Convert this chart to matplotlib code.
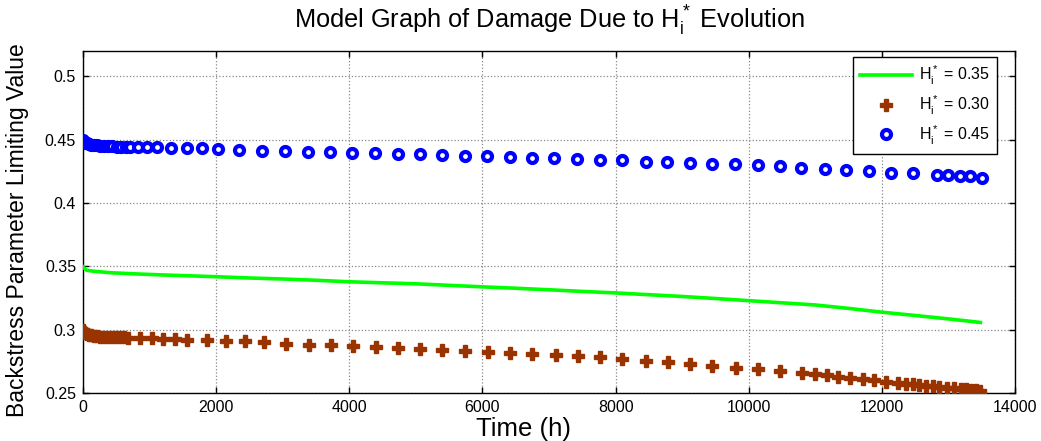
import matplotlib
matplotlib.use("Agg")
import matplotlib.pyplot as plt

# ---- data -------------------------------------------------------------
# H_i* = 0.35 (continuous curve)
t_035 = [0, 50, 150, 400, 800, 1200, 1600, 2000, 2500, 3000, 3500, 4000,
         4500, 5000, 5500, 6000, 6500, 7000, 7500, 8000, 8500, 9000, 9500,
         10000, 10500, 11000, 11500, 12000, 12500, 13000, 13480]
v_035 = [0.3496, 0.3470, 0.3462, 0.3450, 0.3440, 0.3432, 0.3425, 0.3418,
         0.3408, 0.3400, 0.3390, 0.3378, 0.3370, 0.3362, 0.3350, 0.3338,
         0.3327, 0.3315, 0.3302, 0.3290, 0.3276, 0.3262, 0.3246, 0.3229,
         0.3212, 0.3195, 0.3168, 0.3138, 0.3112, 0.3085, 0.3057]

# H_i* = 0.30 (sampled points)
t_030 = [0, 12, 30, 55, 85, 120, 160, 205, 255, 310, 370, 430, 495, 560, 620,
         681, 857, 1033, 1208, 1384, 1560, 1860, 2146, 2436, 2712, 3049,
         3388, 3725, 4050, 4407, 4727, 5068, 5395, 5745, 6081, 6407, 6748,
         7099, 7435, 7765, 8091, 8452, 8788, 9119, 9456, 9806, 10141, 10468,
         10799, 10999, 11175, 11345, 11526, 11712, 11877, 12062, 12247,
         12363, 12464, 12563, 12664, 12764, 12864, 12975, 13089, 13190,
         13265, 13340, 13416, 13480]
v_030 = [0.2997, 0.2985, 0.2975, 0.2967, 0.2960, 0.2955, 0.2951, 0.2948,
         0.2946, 0.2944, 0.2943, 0.2942, 0.2941, 0.2940, 0.2939, 0.2938,
         0.2934, 0.2932, 0.2928, 0.2924, 0.2922, 0.2918, 0.2912, 0.2910,
         0.2902, 0.2886, 0.2879, 0.2881, 0.2871, 0.2862, 0.2858, 0.2849,
         0.2839, 0.2831, 0.2821, 0.2813, 0.2808, 0.2800, 0.2790, 0.2782,
         0.2766, 0.2755, 0.2742, 0.2731, 0.2716, 0.2700, 0.2689, 0.2674,
         0.2655, 0.2648, 0.2642, 0.2626, 0.2618, 0.2610, 0.2603, 0.2589,
         0.2581, 0.2575, 0.2570, 0.2563, 0.2558, 0.2553, 0.2547, 0.2542,
         0.2537, 0.2533, 0.2529, 0.2526, 0.2522, 0.2512]

# H_i* = 0.45 (sampled points)
t_045 = [0, 15, 35, 60, 90, 125, 165, 210, 260, 315, 375, 440, 505, 570, 640,
         707, 832, 958, 1108, 1323, 1560, 1785, 2026, 2346, 2688, 3038, 3373,
         3715, 4041, 4392, 4727, 5058, 5395, 5745, 6071, 6407, 6748, 7073,
         7425, 7765, 8091, 8452, 8779, 9114, 9456, 9795, 10141, 10468, 10784,
         11145, 11460, 11811, 12137, 12473, 12829, 12999, 13175, 13330, 13501]
v_045 = [0.4495, 0.4485, 0.4477, 0.4470, 0.4465, 0.4460, 0.4457, 0.4454,
         0.4452, 0.4450, 0.4448, 0.4447, 0.4446, 0.4445, 0.4444, 0.4443,
         0.4442, 0.4441, 0.4440, 0.4438, 0.4436, 0.4434, 0.4430, 0.4420,
         0.4413, 0.4411, 0.4406, 0.4403, 0.4397, 0.4391, 0.4386, 0.4383,
         0.4381, 0.4372, 0.4374, 0.4364, 0.4355, 0.4353, 0.4346, 0.4338,
         0.4337, 0.4327, 0.4320, 0.4314, 0.4307, 0.4305, 0.4298, 0.4290,
         0.4280, 0.4270, 0.4259, 0.4253, 0.4240, 0.4233, 0.4225, 0.4218,
         0.4217, 0.4211, 0.4200]

x_ticks = [0, 2000, 4000, 6000, 8000, 10000, 12000, 14000]
y_ticks = [0.25, 0.3, 0.35, 0.4, 0.45, 0.5]
y_tick_labels = ["0.25", "0.3", "0.35", "0.4", "0.45", "0.5"]

labels = [r"$\mathrm{H_i^*}$ = 0.35", r"$\mathrm{H_i^*}$ = 0.30",
          r"$\mathrm{H_i^*}$ = 0.45"]

# ---- style ------------------------------------------------------------
plt.rcParams["font.family"] = ["Liberation Sans", "DejaVu Sans"]
plt.rcParams["mathtext.fontset"] = "custom"
plt.rcParams["mathtext.rm"] = "Liberation Sans"
plt.rcParams["mathtext.it"] = "Liberation Sans"

fig = plt.figure(figsize=(10.41, 4.41), dpi=100)
ax = fig.add_axes([83 / 1041, 1 - 393 / 441, (1015 - 83) / 1041, (393 - 51) / 441])

ax.plot(t_035, v_035, color="#00ff00", lw=2.6, label=labels[0], zorder=3)
ax.plot(t_030, v_030, ls="none", marker="P", ms=8.0, color="#993300",
        mec="#993300", label=labels[1], zorder=4)
ax.plot(t_045, v_045, ls="none", marker="o", ms=6.5, mew=3.0,
        mec="#0000ff", mfc="white", label=labels[2], zorder=5)

ax.set_xlim(0, 14000)
ax.set_ylim(0.25, 0.52)
ax.set_xticks(x_ticks)
ax.set_xticklabels([str(v) for v in x_ticks])
ax.set_yticks(y_ticks)
ax.set_yticklabels(y_tick_labels)
ax.tick_params(direction="in", top=True, right=True, length=4, width=1,
               labelsize=11.5, pad=5, colors="black")
ax.grid(True, ls=":", color="#888888", lw=0.9)
for s in ax.spines.values():
    s.set_linewidth(1.0)
    s.set_color("black")

ax.set_title(r"Model Graph of Damage Due to $\mathrm{H_i^*}$ Evolution",
             fontsize=18.3, pad=16)
ax.set_xlabel("Time (h)", fontsize=18.5)
ax.xaxis.set_label_coords((523 - 83) / (1015 - 83), -0.07)
ax.set_ylabel("Backstress Parameter Limiting Value", fontsize=16.5)
ax.yaxis.set_label_coords(-0.058, 0.475)

leg = ax.legend(loc="upper right", bbox_to_anchor=(997 / 1041, 1 - 57 / 441),
                bbox_transform=fig.transFigure, borderaxespad=0,
                fontsize=11.5, handlelength=3.3, labelspacing=0.4,
                fancybox=False, framealpha=1, edgecolor="black",
                borderpad=0.45, handletextpad=0.4)
leg.get_frame().set_linewidth(1.0)

fig.savefig("out.png", dpi=100)
